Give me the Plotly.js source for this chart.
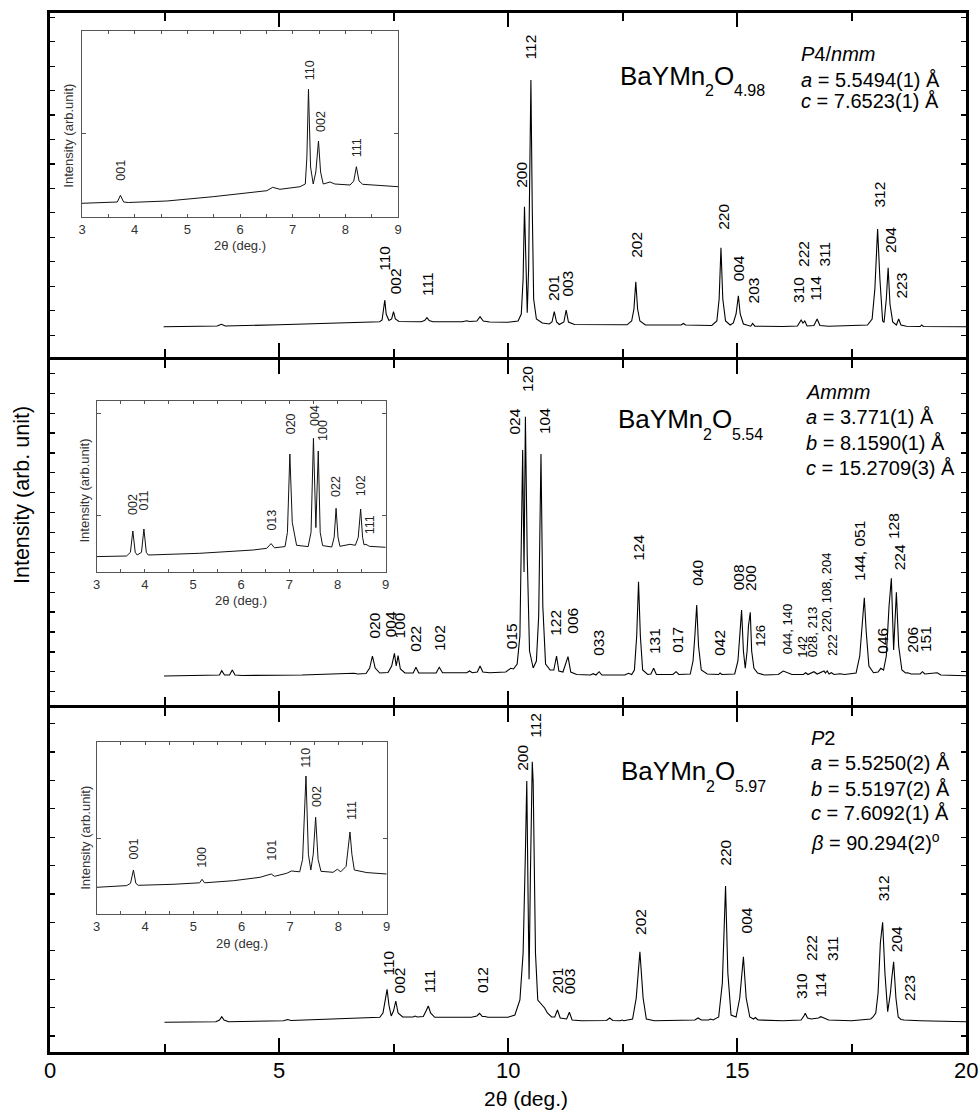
<!DOCTYPE html>
<html><head><meta charset="utf-8">
<script src="https://cdn.plot.ly/plotly-3.0.1.min.js"></script>
<style>html,body{margin:0;padding:0;background:#fff}#chart{width:980px;height:1112px}</style>
</head><body><div id="chart"></div>
<script>
// ---------- DATA (2θ in degrees, intensity in arbitrary units) ----------
const pattern1 = [[2.48,32.3],[3.65,33],[3.74,34.7],[3.83,33],[5.0,34.2],[6.0,35.6],[6.8,36.7],[7.2,37.3],
[7.25,39],[7.28,47],[7.31,59],[7.34,45],[7.40,38.5],[7.46,40],[7.50,47.3],[7.54,40],[7.62,37.5],
[8.10,37.3],[8.18,38.5],[8.23,41.3],[8.28,38.5],[8.36,37.3],[9.00,37.3],[9.10,38.3],[9.16,37.5],
[9.32,38],[9.39,42.3],[9.46,38],[9.60,37],[10.00,36.7],[10.22,38],[10.29,45],[10.33,80],[10.36,152.3],[10.39,80],[10.42,46.3],
[10.45,90],[10.48,200],[10.50,279],[10.53,150],[10.56,60],[10.62,40],[10.75,36],[10.90,35],
[10.96,37],[11.01,47.3],[11.06,37],[11.12,34.5],[11.22,37],[11.27,49],[11.32,37],[11.45,34.5],
[12.00,34.5],[12.60,34.2],[12.70,38],[12.75,50],[12.79,77.3],[12.83,50],[12.88,38],[13.00,34],
[13.78,34],[13.83,35.5],[13.88,34],[14.45,33.5],[14.56,38],[14.61,60],[14.65,111.3],[14.69,60],[14.75,38],[14.85,34],
[14.92,36],[14.98,45],[15.03,63.3],[15.07,45],[15.14,35],[15.25,33],[15.30,32.8],[15.34,35.5],[15.39,32.8],
[16.00,32.5],[16.32,33],[16.40,39],[16.44,36],[16.48,38],[16.53,33],[16.68,33.5],[16.75,40],[16.81,33.5],[17.00,32.8],
[17.85,34],[17.95,40],[18.01,70],[18.07,130],[18.12,80],[18.18,38],[18.21,36.5],[18.26,60],[18.30,91.3],[18.34,55],[18.40,37],
[18.48,34],[18.53,40],[18.58,34],[18.70,32.8],[19.00,32.5],[19.03,34],[19.07,32.5],[20.00,32.3]];

const pattern2 = [[2.49,30],[3.60,30.5],[3.70,31],[3.75,35.3],[3.81,31],[3.92,31],[3.98,36],[4.04,31],[4.20,30.5],[5.50,31],
[6.55,32],[6.64,32.7],[6.72,32],[6.90,32.5],[6.98,38],[7.04,50],[7.10,38],[7.20,33],[7.38,33.5],[7.46,40],[7.52,52.7],[7.56,40],
[7.60,50.3],[7.65,37],[7.75,33],[7.93,33],[7.99,38.7],[8.05,33],[8.43,33],[8.50,38.7],[8.57,33.3],[9.10,33.3],[9.16,35],[9.22,33.3],
[9.33,34],[9.39,40],[9.45,34],[9.60,33.3],[9.95,34],[10.06,37.7],[10.12,37],[10.20,42],[10.26,70],[10.30,180],[10.32,256],[10.35,134],
[10.38,289.3],[10.42,150],[10.47,55],[10.55,38],[10.62,45],[10.67,90],[10.72,252],[10.76,100],[10.82,42],[10.92,36],[11.00,36],
[11.06,50],[11.11,35],[11.20,34],[11.31,49.3],[11.37,34],[11.50,31.5],[11.80,31],[11.86,32.3],[11.92,31],[11.99,34.3],[12.05,31],
[12.55,31],[12.63,32.7],[12.70,31.5],[12.76,36],[12.81,70],[12.85,124.3],[12.89,70],[12.94,36],[13.05,31.5],[13.12,32],[13.18,37.7],
[13.24,31.5],[13.60,31.5],[13.67,34.3],[13.73,31.5],[13.98,32],[14.04,45],[14.08,70],[14.12,101],[14.16,60],[14.22,36],[14.35,32],
[14.60,31.5],[14.63,33],[14.67,31.5],[14.95,32],[15.02,45],[15.06,70],[15.10,96],[15.14,55],[15.18,37.7],[15.22,55],[15.25,80],
[15.29,93.7],[15.32,55],[15.37,37.7],[15.45,33],[15.60,31],[15.90,31.5],[16.01,35],[16.10,33],[16.20,31.5],[16.45,31.5],[16.50,33.3],
[16.55,31.5],[16.68,34.3],[16.75,32],[16.90,35],[16.93,33],[16.97,35],[17.01,32],[17.06,33.3],[17.12,31.5],[17.25,32.3],[17.35,31.5],
[17.60,33],[17.68,50],[17.74,85],[17.78,108.3],[17.82,75],[17.88,40],[17.98,33.3],[18.08,34],[18.14,37.7],[18.20,36],[18.26,50],
[18.32,100],[18.37,127.7],[18.42,56],[18.48,113.7],[18.53,60],[18.60,36],[18.68,33],[18.73,33.3],[18.80,32],[19.00,32],[19.05,34.3],
[19.10,32],[19.37,33.3],[19.45,31],[20.00,30.3]];

const pattern3 = [[2.50,30.7],[3.62,31.3],[3.70,33],[3.75,36.3],[3.80,33],[3.90,31.3],[5.10,32.3],[5.19,33.5],[5.26,32.5],[6.60,34.7],
[7.20,35.7],[7.27,40],[7.32,52],[7.36,63.7],[7.40,48],[7.45,37],[7.50,42],[7.55,52],[7.60,40],[7.70,36],[7.93,36],[7.97,37],[8.02,36],
[8.15,36.5],[8.21,42],[8.26,47],[8.31,40],[8.40,35.7],[9.20,35.7],[9.32,37],[9.38,39.7],[9.44,36.5],[9.50,36.5],[9.56,35.7],[10.00,35.7],
[10.15,38],[10.26,53],[10.33,100],[10.38,200],[10.41,272],[10.44,150],[10.46,73.7],[10.49,180],[10.53,291.3],[10.55,270],[10.57,180],
[10.60,100],[10.65,53],[10.72,49],[10.80,45],[10.86,40],[10.95,36],[11.02,36],[11.08,43],[11.14,35],[11.28,34],[11.34,40.7],[11.40,33],
[11.60,32.3],[12.15,32.5],[12.22,35],[12.29,32.5],[12.45,32.3],[12.49,33],[12.53,32.3],[12.72,34],[12.80,55],[12.88,101.3],[12.95,55],
[13.02,34],[13.20,32.3],[14.08,33],[14.15,35],[14.22,33],[14.38,33],[14.42,34],[14.48,33],[14.60,36],[14.68,70],[14.75,167],[14.80,80],
[14.87,38],[14.98,36],[15.06,55],[15.14,96.3],[15.20,55],[15.28,36],[15.36,34],[15.40,35.5],[15.46,33],[16.00,32.3],[16.26,33],
[16.40,33],[16.46,37],[16.49,39.7],[16.54,35],[16.62,34],[16.78,35],[16.83,36.3],[16.90,35],[17.00,33],[17.50,32.3],[17.92,34],
[17.97,36],[18.03,40],[18.08,60],[18.13,110],[18.18,130.7],[18.23,80],[18.29,41.3],[18.35,60],[18.38,75],[18.42,91.3],[18.47,55],
[18.52,36],[18.58,33.5],[18.65,33],[19.00,32.3],[20.00,31.3]];

const inset1 = [[3.0,13.7],[3.6,14.3],[3.67,15],[3.73,21.7],[3.79,15],[3.88,14.5],[4.61,16],[5.49,20.3],[6.13,24.3],[6.51,26.3],
[6.62,29.7],[6.76,27.7],[7.14,30.3],[7.24,33],[7.27,60],[7.30,127.7],[7.34,50],[7.39,33],[7.44,45],[7.49,76],[7.53,45],[7.58,33],
[7.71,35],[7.80,33],[8.09,32],[8.16,36],[8.21,50.3],[8.26,36],[8.33,32.7],[8.41,32.5],[9.0,30.3]];

const inset2 = [[3.0,15.7],[3.62,16.3],[3.70,20],[3.75,41.3],[3.80,20],[3.84,17.3],[3.93,20],[3.98,43.3],[4.03,20],[4.07,17.3],
[5.14,19],[6.25,22.3],[6.53,24],[6.62,28.7],[6.69,24.5],[6.91,25.7],[6.96,40],[7.01,118.3],[7.06,50],[7.15,27],[7.39,25.7],
[7.45,40],[7.50,134],[7.55,44.7],[7.60,121.3],[7.64,40],[7.69,26.7],[7.88,25.3],[7.93,35],[7.97,64],[8.01,35],[8.05,26],[8.26,28],
[8.37,27],[8.43,35],[8.48,63.3],[8.52,35],[8.55,27.5],[8.59,28],[8.66,26],[9.0,25]];

const inset3 = [[3.0,27],[3.62,28.7],[3.70,31],[3.76,44.3],[3.81,31],[3.86,29],[4.58,30],[5.13,31.5],[5.18,35],[5.23,31.5],
[5.83,33.6],[6.38,37],[6.61,40.3],[6.68,38],[6.93,41],[7.03,43.3],[7.20,42.5],[7.26,55],[7.33,138.3],[7.38,60],[7.43,44.3],
[7.48,60],[7.53,97],[7.58,55],[7.64,43],[7.89,42],[7.98,45],[8.05,42.5],[8.16,48],[8.20,65],[8.24,82.3],[8.28,60],[8.33,44.3],
[8.59,41.7],[9.0,40.3]];

// Peak labels (hkl), their 2θ and the intensity level at which each label starts
const p1Labels = ['110','002','111','200','112','201','003','202','220','004','203','310','222','114','311','312','204','223'];
const p1LabelX = [7.30,7.54,8.23,10.28,10.50,10.98,11.28,12.79,14.69,15.03,15.36,16.33,16.44,16.71,16.90,18.09,18.34,18.57];
const p1LabelY = [87,64,62,170,299,57,61,100,128,77,55,55,91,57,91,150,105,59];

const p2Labels = ['020','004','100','022','102','015','024','120','104','122','006','033','124','131','017','040','042','008','200','144, 051','046','128','224','206','151'];
const p2LabelX = [7.08,7.43,7.63,7.99,8.50,10.07,10.15,10.43,10.81,11.05,11.39,11.99,12.85,13.19,13.70,14.15,14.63,15.05,15.29,17.67,18.16,18.43,18.55,18.83,19.12];
const p2LabelY = [66.7,68,67,53.3,54.3,56,270.3,312.7,271,69.3,71,49.3,143.7,51,52.7,119.3,49.3,115,114.3,124.3,51,166,134.3,52.7,52.7];
const p2MinorLabels = ['126','044, 140','142','028, 213','220, 108, 204','222'];
const p2MinorLabelX = [15.51,16.11,16.43,16.65,16.94,17.10];
const p2MinorLabelY = [58.7,51,47.7,47.7,72.7,49.3];

const p3Labels = ['110','002','111','012','200','112','201','003','202','220','004','310','222','114','311','312','204','223'];
const p3LabelX = [7.38,7.63,8.28,9.43,10.33,10.61,11.06,11.34,12.88,14.76,15.20,16.40,16.62,16.83,17.07,18.20,18.47,18.76];
const p3LabelY = [76,59,59,59,281.3,314.7,58,58,117,186.3,118.7,53,91.3,54.7,91.3,150.3,99.7,51.3];

const i1Labels = ['001','110','002','111'];
const i1LabelX = [3.75,7.32,7.54,8.21];
const i1LabelY = [35.3,135.3,83.7,58.7];
const i2Labels = ['002','011','013','020','004','100','022','102','111'];
const i2LabelX = [3.75,3.98,6.65,7.03,7.53,7.70,7.97,8.49,8.67];
const i2LabelY = [56.7,60.7,40.7,137.3,145.7,130,74,74.7,37.3];
const i3Labels = ['001','100','101','110','002','111'];
const i3LabelX = [3.77,5.18,6.62,7.34,7.56,8.28];
const i3LabelY = [54.3,45,52.7,146,106,93.7];

const formulas = [['BaYMn','2','O','4.98'],['BaYMn','2','O','5.54'],['BaYMn','2','O','5.97']];
const cells = [
  ['<i>P</i>4/<i>nmm</i>','<i>a</i> = 5.5494(1) Å','<i>c</i> = 7.6523(1) Å'],
  ['<i>Ammm</i>','<i>a</i> = 3.771(1) Å','<i>b</i> = 8.1590(1) Å','<i>c</i> = 15.2709(3) Å'],
  ['<i>P</i>2','<i>a</i> = 5.5250(2) Å','<i>b</i> = 5.5197(2) Å','<i>c</i> = 7.6092(1) Å','<i>β</i> = 90.294(2)<sup>o</sup>']
];
const mainMajorTicks = [0,5,10,15,20];
const mainMinorTicks = [2.5,7.5,12.5,17.5];
const insetTicks = [3,3.5,4,4.5,5,5.5,6,6.5,7,7.5,8,8.5,9];

// ---------- LAYOUT ----------
const FONT = 'Liberation Sans, Arial, Helvetica, sans-serif';
const W = 980, H = 1112, ML = 50, MR = 14, MT = 13, MB = 60;
const PW = W - ML - MR, PH = H - MT - MB, YB = H - MB;
const fx = px => (px - ML) / PW;
const fy = py => (YB - py) / PH;

function mainX(anchor, vals, len, width, extra) {
  return Object.assign({domain:[0,1], anchor, range:[0,20], showgrid:false, zeroline:false,
    showline:true, linewidth:3, linecolor:'#000', mirror:'ticks',
    ticks:'inside', ticklen:len, tickwidth:width, tickcolor:'#000',
    tickmode:'array', tickvals:vals, ticktext:vals.map(String),
    showticklabels:false}, extra || {});
}
const majorExtra = {tickmode:'linear', tick0:0, dtick:5,
  minor:{ticks:'inside', ticklen:8, tickwidth:2, tickcolor:'#000', tick0:0, dtick:2.5, showgrid:false}};
function insetX(anchor, pxL, pxR) {
  return {domain:[fx(pxL), fx(pxR)], anchor, range:[3,9], showgrid:false, zeroline:false,
    showline:true, linewidth:1, linecolor:'#555', mirror:'ticks',
    ticks:'inside', ticklen:3, tickwidth:1, tickcolor:'#555', tickmode:'array', tickvals:insetTicks,
    ticktext: insetTicks.map(v => Number.isInteger(v) ? String(v) : ' '),
    tickfont:{family:FONT, size:13, color:'#333'}};
}
function insetY(anchor, pyTop, pyBot, tv) {
  return {domain:[fy(pyBot), fy(pyTop)], anchor, range:[0, pyBot - pyTop], showgrid:false, zeroline:false,
    showline:true, linewidth:1, linecolor:'#555', mirror:'ticks',
    ticks:'inside', ticklen:4, tickwidth:1, tickcolor:'#555', tickmode:'array', tickvals:tv,
    showticklabels:false};
}

// panel pixel edges (inner top, inner bottom, pixel of zero level)
const P = [[13, 357.33, 359], [360.33, 704.67, 706], [707.67, 1052, 1053]];
function panelY(anchor, i, tick0, dtick) {
  const [top, bot, base] = P[i];
  return {domain:[fy(bot), fy(top)], anchor, range:[base - bot, base - top],
    showgrid:false, zeroline:false, showline:true, linewidth:3, linecolor:'#000', mirror:'ticks',
    ticks:'inside', ticklen:5, tickwidth:1.2, tickcolor:'#000', tickmode:'linear', tick0, dtick,
    showticklabels:false};
}

const layout = {
  width:W, height:H, margin:{l:ML, r:MR, t:MT, b:MB},
  showlegend:false,
  font:{family:FONT, color:'#000'},
  xaxis: mainX('y', mainMajorTicks, 14, 2.5, majorExtra),
  xaxis2: mainX('y2', mainMajorTicks, 14, 2.5, majorExtra),
  xaxis3: mainX('y3', mainMajorTicks, 14, 2.5, majorExtra),
  xaxis7: mainX('y', mainMinorTicks, 8, 2, {overlaying:'x', showline:false}),
  xaxis8: mainX('y2', mainMinorTicks, 8, 2, {overlaying:'x2', showline:false}),
  xaxis9: mainX('y3', mainMinorTicks, 8, 2, {overlaying:'x3', showline:false}),
  yaxis: panelY('x', 0, 23.9, 24.45), yaxis2: panelY('x2', 1, 14.3, 19.9), yaxis3: panelY('x3', 2, 17, 28.4),
  xaxis4: insetX('y4', 82, 398), yaxis4: insetY('x4', 31, 217, [83.7]),
  xaxis5: insetX('y5', 96.7, 385.7), yaxis5: insetY('x5', 400.7, 572.3, [57.3, 159]),
  xaxis6: insetX('y6', 96.7, 386.7), yaxis6: insetY('x6', 742.3, 914.3, [76]),
  annotations: []
};

const A = layout.annotations;
function peakAnn(texts, xs, ys, xref, yref, size, color) {
  texts.forEach((t, i) => A.push({text:t, x:xs[i], y:ys[i], xref, yref, textangle:-90,
    xanchor:'center', yanchor:'bottom', showarrow:false, borderpad:0,
    font:{family:FONT, size, color}}));
}
peakAnn(p1Labels, p1LabelX, p1LabelY, 'x', 'y', 15.5, '#000');
peakAnn(p2Labels, p2LabelX, p2LabelY, 'x2', 'y2', 15.5, '#000');
peakAnn(p2MinorLabels, p2MinorLabelX, p2MinorLabelY, 'x2', 'y2', 13, '#000');
peakAnn(p3Labels, p3LabelX, p3LabelY, 'x3', 'y3', 15.5, '#000');
peakAnn(i1Labels, i1LabelX, i1LabelY, 'x4', 'y4', 12.5, '#222');
peakAnn(i2Labels, i2LabelX, i2LabelY, 'x5', 'y5', 12.5, '#222');
peakAnn(i3Labels, i3LabelX, i3LabelY, 'x6', 'y6', 12.5, '#222');

function txt(text, px, py, size, o) {
  A.push(Object.assign({text, x:fx(px), y:fy(py), xref:'paper', yref:'paper', showarrow:false,
    xanchor:'left', yanchor:'middle', borderpad:0, font:{family:FONT, size, color:'#000'}}, o || {}));
}
// bottom axis tick labels, placed on the x3 data scale
mainMajorTicks.forEach(v => A.push({text:String(v), x:v, xref:'x3', y:fy(1070), yref:'paper', showarrow:false,
  xanchor:'center', yanchor:'middle', borderpad:0, font:{family:FONT, size:22, color:'#000'}}));
const fpos = [[618.5, 75.7, 90.7], [617, 419.5, 435], [620, 770.8, 786.7]];
formulas.forEach((f, i) => {
  const [L, C, S] = fpos[i];
  txt(f[0], L, C, 26);
  txt(f[1], L + 85.3, S, 16);
  txt(f[2], L + 94.2, C, 26);
  txt(f[3], L + 114.4, S, 16);
});
const cpos = [[800, [54, 80, 101.5]], [805, [392, 417.5, 442.5, 467.5]], [810, [738.3, 763, 789, 813.3, 841.7]]];
cells.forEach((lines, i) => {
  lines.forEach((l, j) => txt(l, cpos[i][0], cpos[i][1][j], 20));
});
txt('Intensity (arb. unit)', 22, 495, 21.5, {textangle:-90, xanchor:'center'});
txt('2θ (deg.)', 526, 1098, 21, {xanchor:'center'});
[[240, 246], [241, 601], [242, 943]].forEach(p => txt('2θ (deg.)', p[0], p[1], 13, {xanchor:'center', font:{family:FONT, size:13, color:'#333'}}));
[[69, 135.7], [84, 490.5], [85.3, 837.5]].forEach(p => txt('Intensity (arb.unit)', p[0], p[1], 13, {xanchor:'center', textangle:-90, font:{family:FONT, size:13, color:'#333'}}));

function line(d, xa, ya, w, c) {
  return {type:'scatter', mode:'lines', x:d.map(p => p[0]), y:d.map(p => p[1]), xaxis:xa, yaxis:ya,
    line:{color:c, width:w}, hoverinfo:'skip'};
}
const traces = [
  line(pattern1, 'x', 'y', 1.1, '#000'), line(pattern2, 'x2', 'y2', 1.1, '#000'), line(pattern3, 'x3', 'y3', 1.1, '#000'),
  line(inset1, 'x4', 'y4', 1, '#111'), line(inset2, 'x5', 'y5', 1, '#111'), line(inset3, 'x6', 'y6', 1, '#111'),
  {type:'scatter', mode:'lines', x:[], y:[], xaxis:'x7', yaxis:'y', hoverinfo:'skip'},
  {type:'scatter', mode:'lines', x:[], y:[], xaxis:'x8', yaxis:'y2', hoverinfo:'skip'},
  {type:'scatter', mode:'lines', x:[], y:[], xaxis:'x9', yaxis:'y3', hoverinfo:'skip'}
];
Plotly.newPlot('chart', traces, layout, {displayModeBar:false, staticPlot:true});
</script></body></html>
